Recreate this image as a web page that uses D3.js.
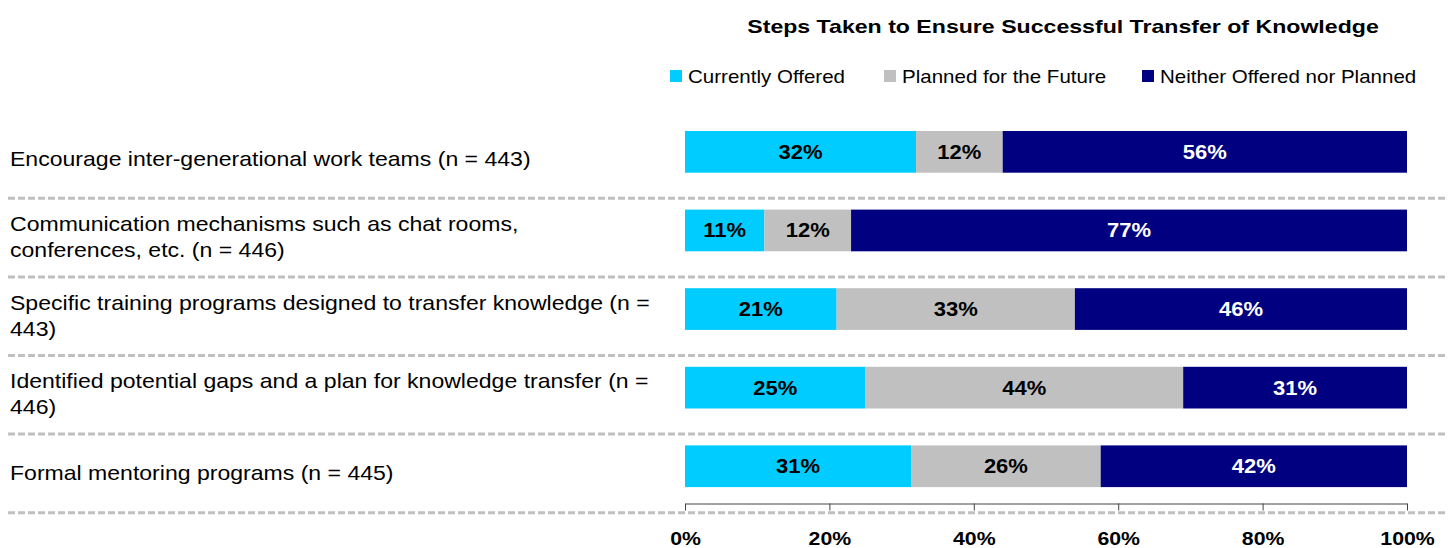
<!DOCTYPE html>
<html><head><meta charset="utf-8">
<script src="https://cdn.jsdelivr.net/npm/d3@7/dist/d3.min.js"></script>
<style>body{margin:0;background:#fff;}svg{display:block;font-family:Arial,"Liberation Sans",sans-serif;}</style>
</head><body><svg id="c" width="1451" height="548"></svg>
<script>
const title = "Steps Taken to Ensure Successful Transfer of Knowledge";
const categories = [
  "Encourage inter-generational work teams (n = 443)",
  "Communication mechanisms such as chat rooms,\nconferences, etc. (n = 446)",
  "Specific training programs designed to transfer knowledge (n =\n443)",
  "Identified potential gaps and a plan for knowledge transfer (n =\n446)",
  "Formal mentoring programs (n = 445)"
];
const seriesNames = ["Currently Offered", "Planned for the Future", "Neither Offered nor Planned"];
const currentlyOffered = [32, 11, 21, 25, 31];
const plannedFuture = [12, 12, 33, 44, 26];
const neither = [56, 77, 46, 31, 42];
const tickValues = [0, 0.2, 0.4, 0.6, 0.8, 1.0];
const colors = ["#00CCFF", "#C0C0C0", "#000080"];
const labelColors = ["#000", "#000", "#fff"];

const svg = d3.select("#c");
const x = d3.scaleLinear().domain([0, 1]).range([685, 1407]);
const y = d3.scaleBand().domain(d3.range(categories.length)).range([119.7, 512.7]).paddingInner(0).paddingOuter(0);
const barOffset = 11.3, barH = 41.7;

// helper: text placed at (px,py) and stretched horizontally by sx
function stretchText(parent, px, py, sx, anchor) {
  return parent.append("text").attr("transform", `translate(${px},${py}) scale(${sx},1)`)
    .attr("x", 0).attr("y", 0).attr("text-anchor", anchor || "start");
}

const seriesVals = [currentlyOffered, plannedFuture, neither];
const rows = categories.map((c, i) => {
  const vals = seriesVals.map(s => s[i]);
  const tot = d3.sum(vals);
  let acc = 0;
  return vals.map((v, k) => { const s = acc / tot; acc += v; return {i, k, v, x0: s, x1: acc / tot}; });
});

// title
stretchText(svg, 1063, 32.5, 1.23, "middle").attr("font-weight", "bold").attr("font-size", 18.8).text(title);

// legend
const legX = [670, 884, 1142];
seriesNames.forEach((n, k) => {
  svg.append("rect").attr("x", legX[k]).attr("y", 70).attr("width", 12).attr("height", 12).attr("fill", colors[k]);
  stretchText(svg, legX[k] + 18, 83, 1.14, "start").attr("font-size", 18).text(n);
});

// separators
const seps = categories.map((c, i) => y(i) + y.bandwidth());
svg.selectAll("line.sep").data(seps).enter().append("line")
  .attr("x1", 8).attr("x2", 1446).attr("y1", d => d).attr("y2", d => d)
  .attr("stroke", "#c0c0c0").attr("stroke-width", 3).attr("stroke-dasharray", "7,3");

// bars
const g = svg.append("g");
rows.forEach(r => r.forEach(d => {
  const yy = y(d.i) + barOffset;
  g.append("rect").attr("x", x(d.x0)).attr("y", yy).attr("width", x(d.x1) - x(d.x0)).attr("height", barH).attr("fill", colors[d.k]);
  stretchText(g, (x(d.x0) + x(d.x1)) / 2, yy + barH / 2 + 7, 1.1, "middle")
    .attr("font-weight", "bold").attr("font-size", 20)
    .attr("fill", labelColors[d.k]).text(d.v + "%");
}));

// category labels
categories.forEach((c, i) => {
  const lines = c.split("\n");
  const cy = y(i) + y.bandwidth() / 2;
  const lh = 26;
  lines.forEach((ln, j) => {
    stretchText(svg, 10, cy + 6.5 + (j - (lines.length - 1) / 2) * lh, 1.125, "start")
      .attr("font-size", 20.5).attr("fill", "#000").text(ln);
  });
});

// axis
const axis = d3.axisBottom(x).tickValues(tickValues).tickFormat(d3.format(".0%")).tickSize(7).tickSizeOuter(0);
const ag = svg.append("g").attr("transform", "translate(0,503.5)").call(axis);
ag.select(".domain").attr("stroke", "#444");
ag.selectAll(".tick line").attr("stroke", "#444");
ag.selectAll(".tick text").attr("y", 0).attr("dy", null)
  .attr("transform", "translate(0,41) scale(1.12,1)")
  .attr("font-size", 19).attr("font-weight", "bold")
  .attr("font-family", "Arial, 'Liberation Sans', sans-serif").attr("fill", "#000");
</script></body></html>
